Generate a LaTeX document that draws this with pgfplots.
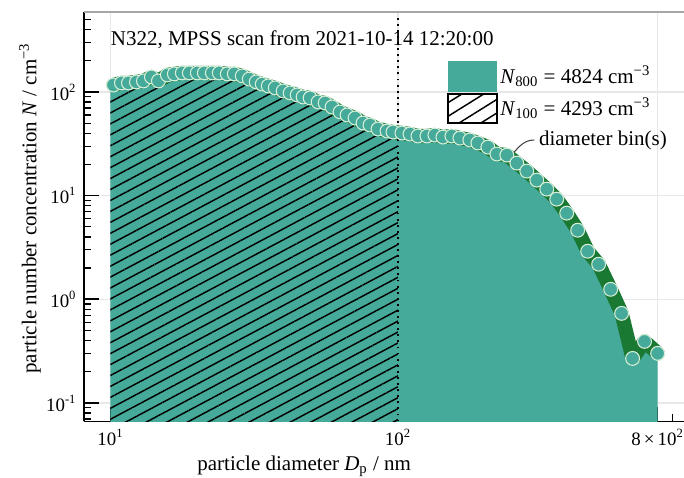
\documentclass[border=0pt]{standalone}
\usepackage{fontspec}
\setmainfont{Liberation Serif}
\usepackage{pgfplots}
\pgfplotsset{compat=1.18}
\usepackage{pgfplotstable}
\usetikzlibrary{patterns.meta}
\definecolor{fillteal}{RGB}{70,170,155}
\definecolor{banddark}{RGB}{25,120,50}
\definecolor{markedge}{RGB}{215,238,215}

% particle number size distribution (D / nm, N / cm^-3)
\pgfplotstableread{
D N
10.24 116.8
10.92 122.2
11.55 122.2
12.31 124.9
13.02 127.7
13.88 139.6
14.68 127.7
15.77 146.0
16.68 149.3
17.78 152.6
18.81 152.6
20.05 152.6
21.21 152.6
22.61 152.6
23.90 152.6
25.49 149.3
26.96 149.3
28.73 142.8
30.39 133.0
32.13 125.0
33.72 119.0
35.38 114.3
37.41 109.3
39.88 102.2
42.17 97.8
44.60 93.5
46.78 89.5
49.47 87.5
52.76 80.1
55.79 78.3
58.99 71.6
62.89 64.1
66.52 59.95
70.93 56.1
75.60 50.2
79.95 48.0
85.22 43.9
91.58 42.0
96.07 41.1
103.2 40.2
110.1 39.3
117.3 37.6
126.1 37.6
134.4 38.4
143.3 36.7
154.0 37.6
164.2 35.9
177.8 34.4
189.6 32.2
205.4 29.4
220.8 25.2
239.1 24.6
259.0 20.6
280.5 17.25
303.9 14.12
329.2 11.56
356.5 9.25
386.2 6.78
421.7 4.64
456.8 2.91
498.8 2.18
549.2 1.249
599.5 0.732
654.6 0.269
720.4 0.393
800 0.301
}\psd

% area N800 (10 ... 800 nm)
\pgfplotstableread{
D N
10 0.05
10 115
10.24 116.8
10.92 122.2
11.55 122.2
12.31 124.9
13.02 127.7
13.88 139.6
14.68 127.7
15.77 146.0
16.68 149.3
17.78 152.6
18.81 152.6
20.05 152.6
21.21 152.6
22.61 152.6
23.90 152.6
25.49 149.3
26.96 149.3
28.73 142.8
30.39 133.0
32.13 125.0
33.72 119.0
35.38 114.3
37.41 109.3
39.88 102.2
42.17 97.8
44.60 93.5
46.78 89.5
49.47 87.5
52.76 80.1
55.79 78.3
58.99 71.6
62.89 64.1
66.52 59.95
70.93 56.1
75.60 50.2
79.95 48.0
85.22 43.9
91.58 42.0
96.07 41.1
103.2 40.2
110.1 39.3
117.3 37.6
126.1 37.6
134.4 38.4
143.3 36.7
154.0 37.6
164.2 35.9
177.8 34.4
189.6 32.2
205.4 29.4
220.8 25.2
239.1 24.6
259.0 20.6
280.5 17.25
303.9 14.12
329.2 11.56
356.5 9.25
386.2 6.78
421.7 4.64
456.8 2.91
498.8 2.18
549.2 1.249
599.5 0.732
654.6 0.269
720.4 0.393
800 0.301
800 0.05
}\fillt

% area N100 (10 ... 100 nm)
\pgfplotstableread{
D N
10 0.05
10 115
10.24 116.8
10.92 122.2
11.55 122.2
12.31 124.9
13.02 127.7
13.88 139.6
14.68 127.7
15.77 146.0
16.68 149.3
17.78 152.6
18.81 152.6
20.05 152.6
21.21 152.6
22.61 152.6
23.90 152.6
25.49 149.3
26.96 149.3
28.73 142.8
30.39 133.0
32.13 125.0
33.72 119.0
35.38 114.3
37.41 109.3
39.88 102.2
42.17 97.8
44.60 93.5
46.78 89.5
49.47 87.5
52.76 80.1
55.79 78.3
58.99 71.6
62.89 64.1
66.52 59.95
70.93 56.1
75.60 50.2
79.95 48.0
85.22 43.9
91.58 42.0
96.07 41.1
100 40.6
100 0.05
}\hatcht

\begin{document}
\begin{tikzpicture}
\begin{axis}[
  scale only axis, width=285.7pt, height=195pt,
  xmode=log, ymode=log,
  xmin=8.09, xmax=988, ymin=0.0663, ymax=590.8,
  axis x line*=bottom, axis y line*=left,
  axis line style={line width=0.8pt, black},
  xtick={10,100,800},
  xticklabels={10\textsuperscript{1},10\textsuperscript{2},8\,×\,10\textsuperscript{2}},
  minor xtick={20,30,40,50,60,70,80,90,200,300,400,500,600,700,900},
  ytick={0.1,1,10,100},
  yticklabels={10\textsuperscript{-1},10\textsuperscript{0},10\textsuperscript{1},10\textsuperscript{2}},
  minor ytick={0.07,0.08,0.09,0.2,0.3,0.4,0.5,0.6,0.7,0.8,0.9,2,3,4,5,6,7,8,9,20,30,40,50,60,70,80,90,200,300,400,500},
  tick align=inside, major tick length=7pt, minor tick length=3.5pt,
  major tick style={black, line width=0.8pt},
  minor tick style={black, line width=0.6pt},
  ticklabel style={font=\fontsize{9}{10}\selectfont},
  grid=major, major grid style={gray!18, line width=0.6pt},
  xlabel={particle diameter \textit{D}\textsubscript{p} / nm},
  ylabel={particle number concentration \textit{N} / cm\textsuperscript{−3}},
  xlabel style={at={(rel axis cs:0.367,-0.1087)}, anchor=center},
  ylabel style={at={(rel axis cs:-0.09,0.521)}, anchor=center},
]
\addplot[draw=none, fill=fillteal] table {\fillt};
\addplot[draw=none, pattern={Lines[angle=28,distance=4.6pt,line width=0.7pt]}, pattern color=black] table {\hatcht};
\addplot[banddark, line width=6.8pt, line join=round, line cap=round] table {\psd};
\addplot[only marks, mark=*, mark size=3.3pt, mark options={fill=fillteal, draw=markedge, line width=0.5pt}] table {\psd};
\addplot[black, dotted, line width=0.9pt] coordinates {(100,0.0663) (100,590.8)};

% legend
\fill[fillteal] (rel axis cs:0.6067,0.8046) rectangle (rel axis cs:0.6883,0.8803);
\fill[white] (rel axis cs:0.6067,0.7289) rectangle (rel axis cs:0.6883,0.7998);
\fill[pattern={Lines[angle=32,distance=5.5pt,line width=0.7pt]}, pattern color=black] (rel axis cs:0.6067,0.7289) rectangle (rel axis cs:0.6883,0.7998);
\draw[line width=0.8pt] (rel axis cs:0.6067,0.7289) rectangle (rel axis cs:0.6883,0.7998);
\node[anchor=west, inner sep=0pt] at (rel axis cs:0.6933,0.8425) {\textit{N}\textsubscript{800} = 4824 cm\textsuperscript{−3}};
\node[anchor=west, inner sep=0pt] at (rel axis cs:0.6933,0.7643) {\textit{N}\textsubscript{100} = 4293 cm\textsuperscript{−3}};

% title and annotation
\node[anchor=west, inner sep=0pt] at (axis cs:10,317) {N322, MPSS scan from 2021-10-14 12:20:00};
\node[anchor=center, inner sep=0pt] (lbl) at (axis cs:516,34.4) {diameter bin(s)};
\draw[black!75, line width=0.5pt] ([xshift=-2pt]lbl.west) to[out=180,in=50] (axis cs:249,24.7);
\end{axis}
\draw[gray!70, line width=0.6pt] (current axis.north west) -- (current axis.north east);
\pgfresetboundingbox
\useasboundingbox ([shift={(-40pt,-26.9pt)}]current axis.south west) rectangle ([shift={(0pt,5.7pt)}]current axis.north east);
\end{tikzpicture}
\end{document}
